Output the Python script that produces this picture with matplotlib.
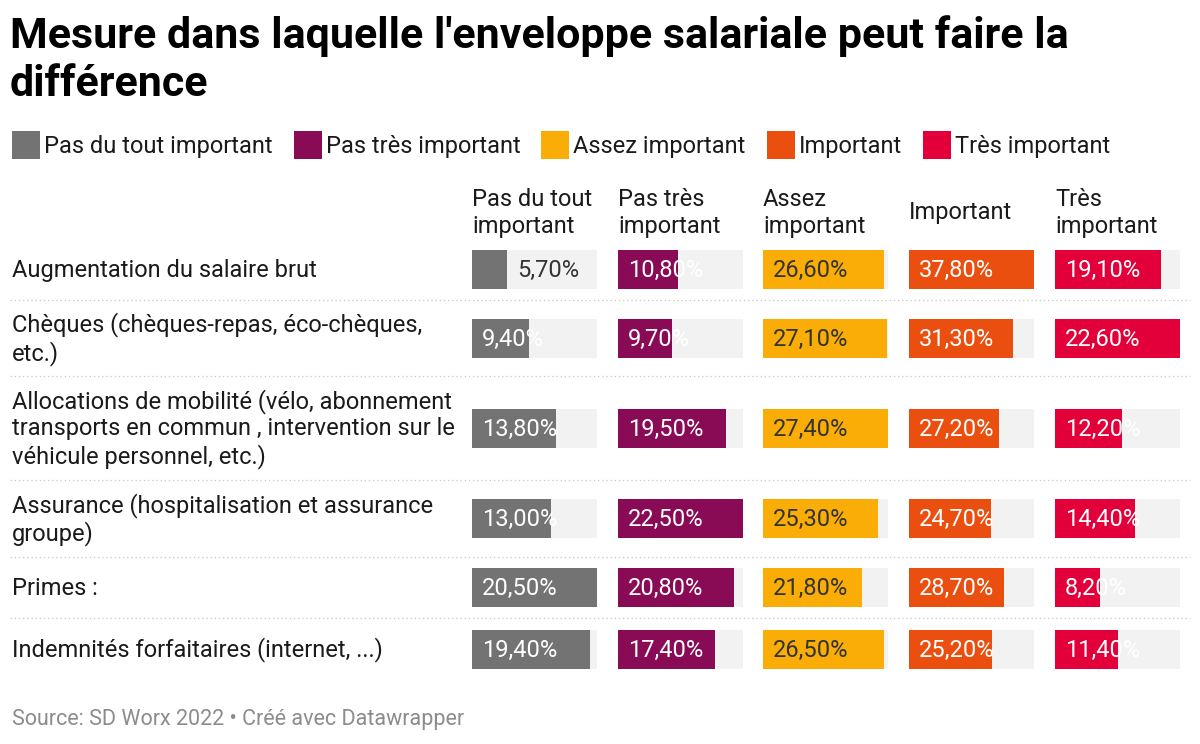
import matplotlib
matplotlib.use('Agg')
import matplotlib.pyplot as plt

plt.rcParams['font.family'] = ['Roboto', 'DejaVu Sans']

# Data
categories = [
    "Augmentation du salaire brut",
    "Chèques (chèques-repas, éco-chèques,\netc.)",
    "Allocations de mobilité (vélo, abonnement\ntransports en commun , intervention sur le\nvéhicule personnel, etc.)",
    "Assurance (hospitalisation et assurance\ngroupe)",
    "Primes :",
    "Indemnités forfaitaires (internet, ...)",
]
series_names = ["Pas du tout important", "Pas très important", "Assez important",
                "Important", "Très important"]
column_headers = ["Pas du tout\nimportant", "Pas très\nimportant", "Assez\nimportant",
                  "Important", "Très\nimportant"]
pas_du_tout = [5.7, 9.4, 13.8, 13.0, 20.5, 19.4]
pas_tres = [10.8, 9.7, 19.5, 22.5, 20.8, 17.4]
assez = [26.6, 27.1, 27.4, 25.3, 21.8, 26.5]
important = [37.8, 31.3, 27.2, 24.7, 28.7, 25.2]
tres = [19.1, 22.6, 12.2, 14.4, 8.2, 11.4]

values = [pas_du_tout, pas_tres, assez, important, tres]
colors = ['#737373', '#8a0b55', '#f9ad06', '#ea4f10', '#e3003a']
label_colors = ['white', 'white', '#333333', 'white', 'white']

# Layout (pixels)
W, H = 1200, 744
fig = plt.figure(figsize=(W / 100, H / 100), dpi=100)
ax = fig.add_axes([0, 0, 1, 1])
ax.set_xlim(0, W)
ax.set_ylim(H, 0)
ax.axis('off')

row_y = [269.5, 338, 428, 518.5, 587.5, 649]
separators = [300, 376, 480, 557, 618]
col_x = [472, 618, 763, 909, 1055]
col_w = 125
bar_h = 39
fs = 17
txt_col = '#1a1a1a'

# Title
ax.text(10, 36, "Mesure dans laquelle l'enveloppe salariale peut faire la",
        fontsize=31, fontweight='bold', color='#000000', va='center', ha='left')
ax.text(10, 84, "différence",
        fontsize=31, fontweight='bold', color='#000000', va='center', ha='left')

# Legend
lx = 12
for name, c in zip(series_names, colors):
    ax.add_patch(plt.Rectangle((lx, 131), 28, 28, color=c, lw=0))
    t = ax.text(lx + 32, 146, name, fontsize=fs, color=txt_col, va='center', ha='left')
    fig.canvas.draw()
    bb = t.get_window_extent()
    lx = bb.x1 + 21

# Column headers
for x, h in zip(col_x, column_headers):
    ax.text(x, 213, h, fontsize=fs, color=txt_col, va='center', ha='left', linespacing=1.18)

# Row labels
for y, cat in zip(row_y, categories):
    ax.text(12, y + 1, cat, fontsize=fs, color=txt_col, va='center', ha='left', linespacing=1.18)

# Separators
for s in separators:
    ax.plot([10, 1190], [s, s], color='#cccccc', lw=1, ls=(0, (1, 2)))

# Bars
for j, (vals, c, lc) in enumerate(zip(values, colors, label_colors)):
    vmax = max(vals)
    widths = [v / vmax * col_w for v in vals]
    ax.barh(row_y, [col_w] * len(vals), left=col_x[j], height=bar_h, color='#f2f2f2', lw=0)
    ax.barh(row_y, widths, left=col_x[j], height=bar_h, color=c, lw=0)
    for y, v, w in zip(row_y, vals, widths):
        txt = f"{v:.2f}%".replace('.', ',')
        if w < 40:
            ax.text(col_x[j] + w + 10, y + 1, txt, fontsize=fs, color='#333333',
                    va='center', ha='left')
        else:
            ax.text(col_x[j] + 10, y + 1, txt, fontsize=fs, color=lc,
                    va='center', ha='left')

# Footer
ax.text(12, 720, "Source: SD Worx 2022 • Créé avec Datawrapper", fontsize=15.5,
        color='#8c8c8c', va='center', ha='left')

fig.savefig('out.png', dpi=100, facecolor='white')
